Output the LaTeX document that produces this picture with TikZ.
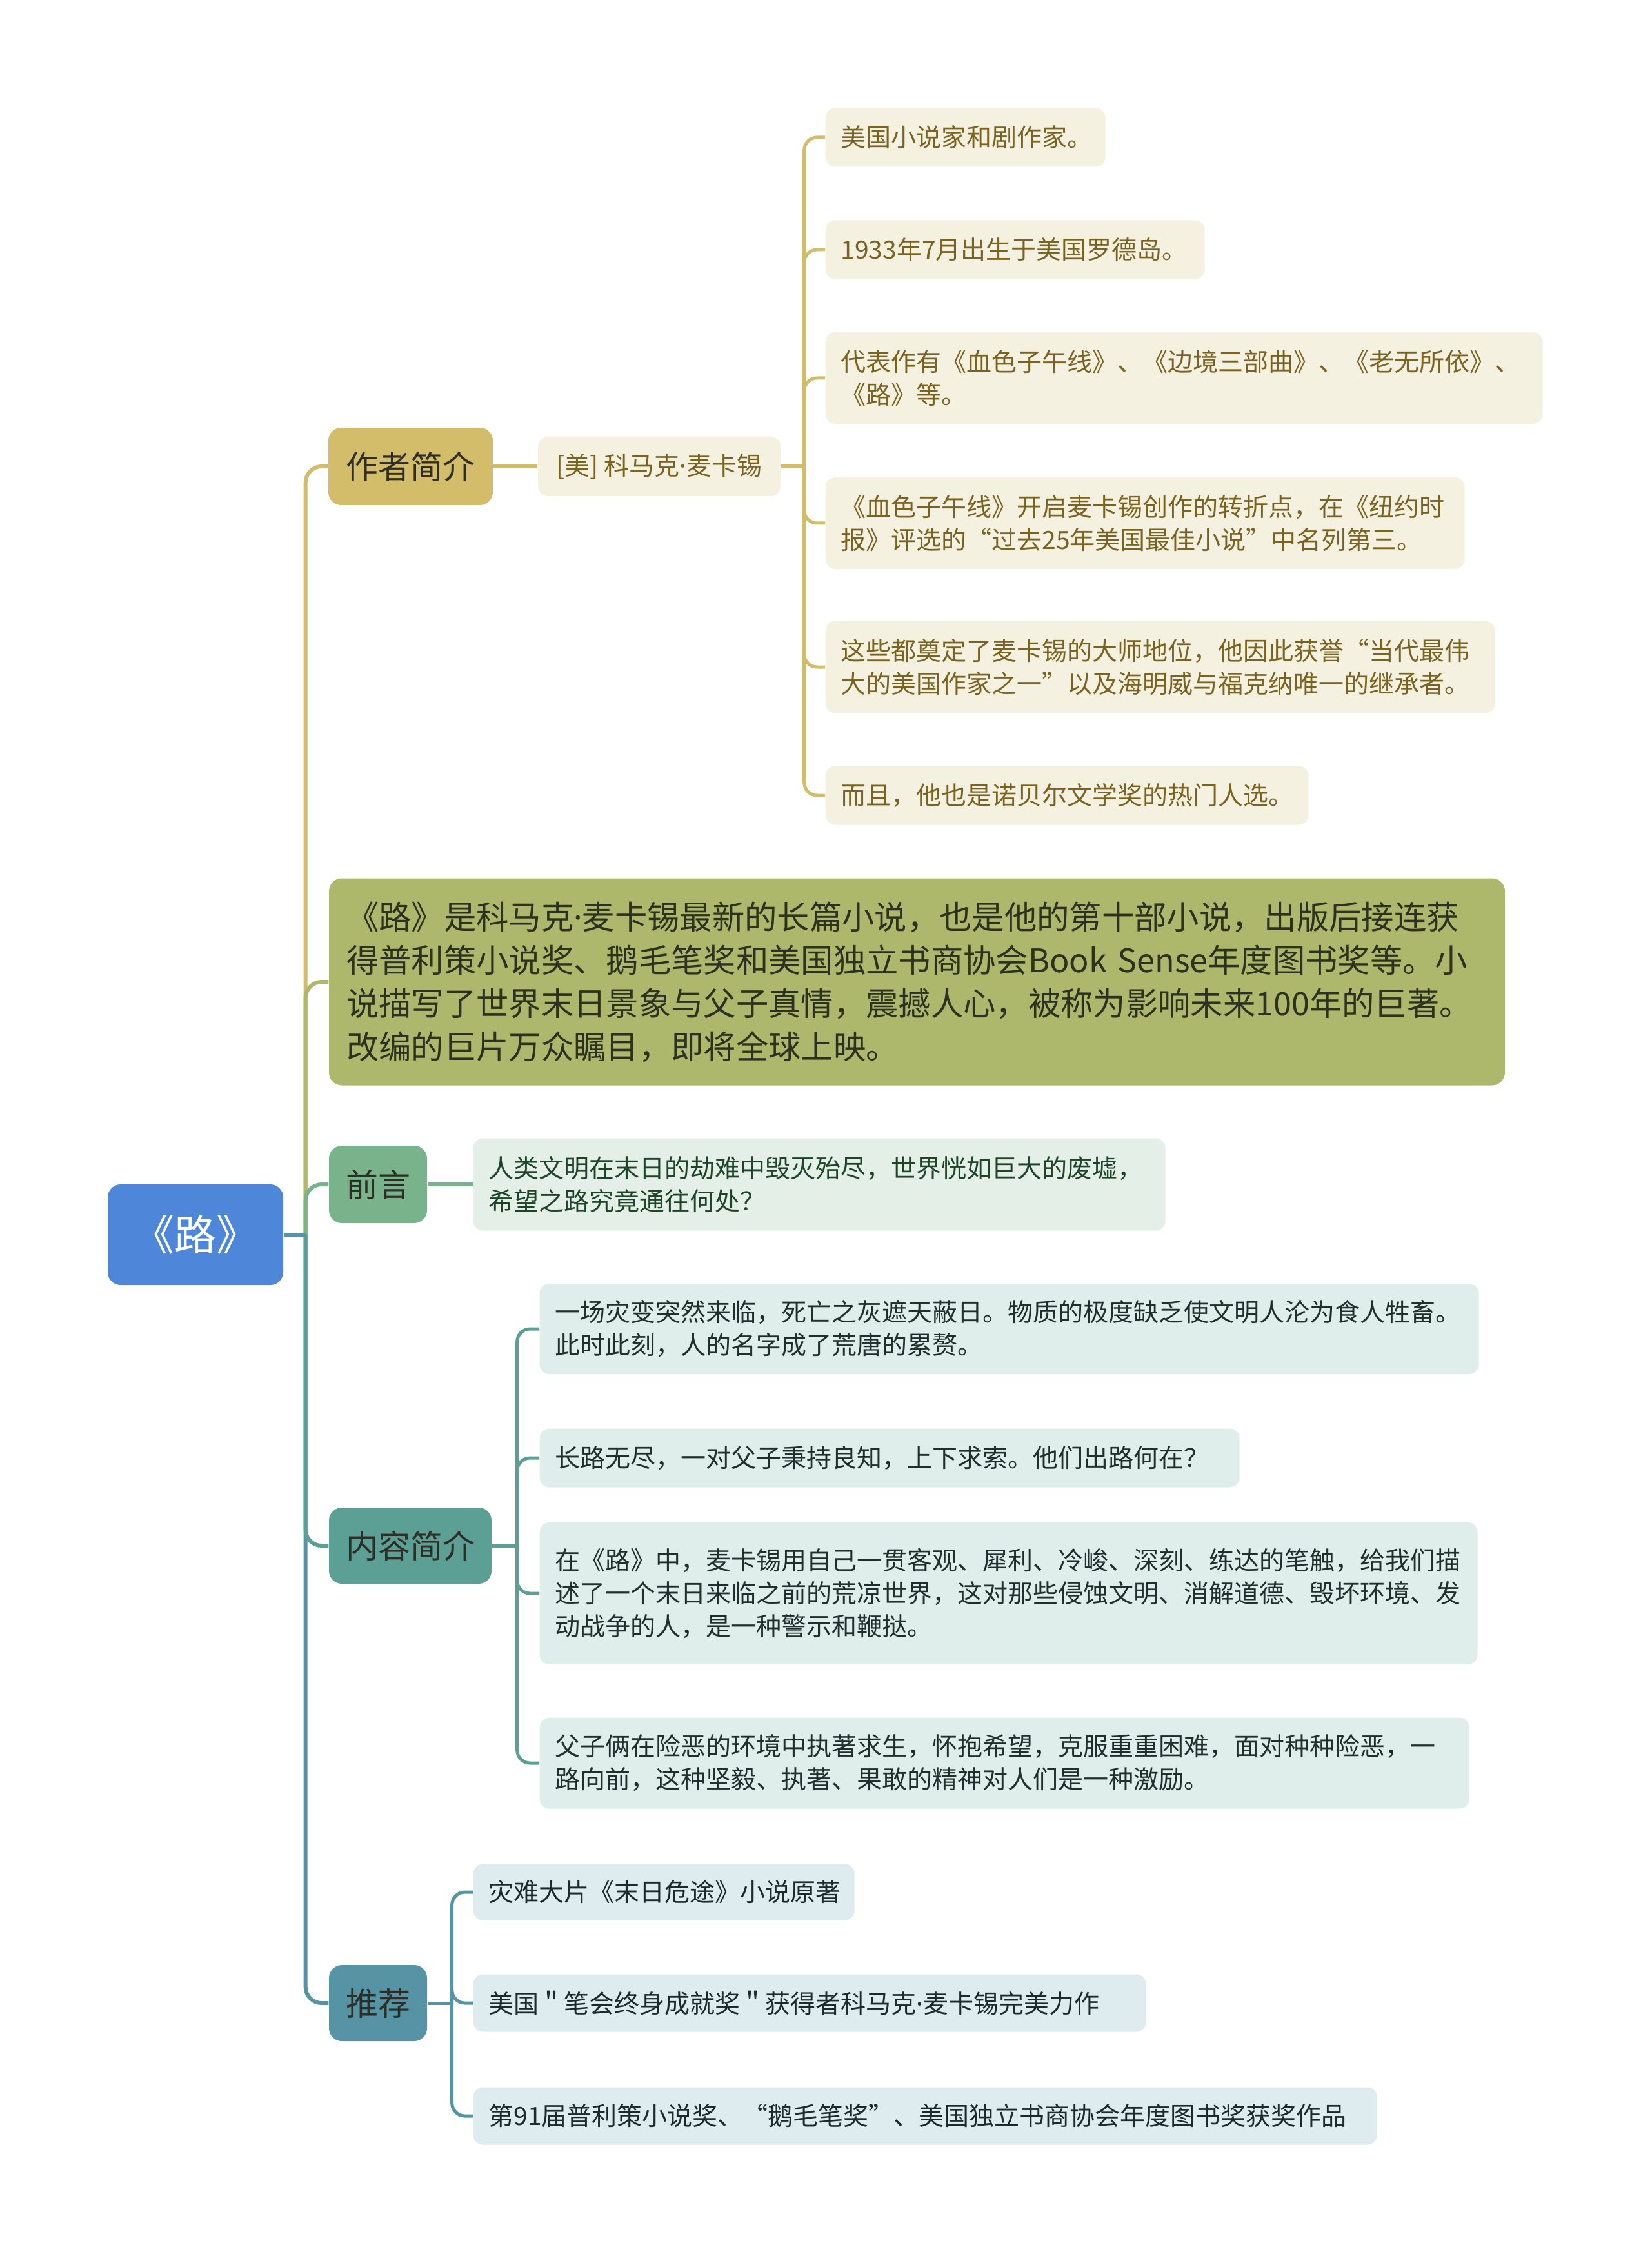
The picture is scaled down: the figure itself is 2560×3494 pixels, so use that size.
\documentclass[tikz,border=0pt]{standalone}
\usepackage{fontspec}
\setmainfont{Noto Sans CJK SC}
\newfontfamily\latinfont{Noto Sans}
\newcommand{\mdot}{{\latinfont ·}}
\definecolor{rootblue}{HTML}{4E86D9}
\definecolor{goldc}{HTML}{D3BD6B}
\definecolor{goldleaf}{HTML}{F5F1E1}
\definecolor{goldtext}{HTML}{7A6321}
\definecolor{olivec}{HTML}{ADB86C}
\definecolor{olivetext}{HTML}{2D3220}
\definecolor{greenc}{HTML}{78B38B}
\definecolor{greenleaf}{HTML}{E3EFE7}
\definecolor{greentext}{HTML}{1E4527}
\definecolor{tealc}{HTML}{5B9F95}
\definecolor{tealleaf}{HTML}{DFEDEB}
\definecolor{tealtext}{HTML}{1F2F2D}
\definecolor{bluec}{HTML}{5693A4}
\definecolor{blueleaf}{HTML}{DEEBEF}
\definecolor{bluetext}{HTML}{1C2A2E}
\definecolor{topictext}{HTML}{2E2E26}
\begin{document}
\begin{tikzpicture}[x=0.3pt,y=-0.3pt,
  rootbox/.style={rounded corners=6pt, fill=rootblue, text=white, inner sep=0pt,
    minimum width=81.6pt, minimum height=46.8pt, font=\fontsize{19.5}{22}\selectfont},
  topic/.style={rounded corners=6pt, text=topictext, inner sep=0pt,
    minimum height=36pt, font=\fontsize{15}{18}\selectfont},
  leaf/.style={rounded corners=4.5pt, anchor=west, align=left, inner xsep=7.2pt, inner ysep=0pt,
    font=\fontsize{11.7}{15.3}\selectfont},
  gleaf/.style={leaf, fill=goldleaf, text=goldtext},
  tleaf/.style={leaf, fill=tealleaf, text=tealtext},
  bleaf/.style={leaf, fill=blueleaf, text=bluetext},
  trunk/.style={line width=1.8pt, rounded corners=7.5pt},
  twig/.style={line width=1.5pt, rounded corners=6pt},
]
\useasboundingbox (0,0) rectangle (2560,3494);

% root
\node[rootbox] (root) at (303,1914) {《路》};
\coordinate (T) at ([xshift=10.2pt]root.east);

% main topics
\node[topic, fill=goldc, minimum width=76.5pt] (author) at (636.5,723) {作者简介};
\node[leaf, anchor=center, align=left, fill=olivec, text=olivetext, rounded corners=6pt,
      inner xsep=8.1pt, text width=530.7pt, minimum height=96.3pt,
      font=\fontsize{15.1}{20.1}\selectfont] (para) at (1421.5,1522)
  {《路》是科马克\mdot 麦卡锡最新的长篇小说，也是他的第十部小说，出版后接连获\\
   得普利策小说奖、鹅毛笔奖和美国独立书商协会Book~Sense年度图书奖等。小\\
   说描写了世界末日景象与父子真情，震撼人心，被称为影响未来100年的巨著。\\
   改编的巨片万众瞩目，即将全球上映。};
\node[topic, fill=greenc, minimum width=45.6pt] (preface) at (586,1836) {前言};
\node[topic, fill=tealc, minimum width=75.6pt, minimum height=35.4pt] (content) at (636,2396) {内容简介};
\node[topic, fill=bluec, minimum width=45.6pt, minimum height=35.4pt] (rec) at (586,3105) {推荐};

% author sub-node
\node[rounded corners=4.5pt, fill=goldleaf, text=goldtext, inner sep=0pt,
      minimum width=112.8pt, minimum height=27.6pt,
      font=\fontsize{11.7}{15.3}\selectfont] (mcc) at (1022,723) {[美] 科马克\mdot 麦卡锡};
\coordinate (B1) at ([xshift=10.8pt]mcc.east);

% author leaves
\node[gleaf, text width=115.8pt, minimum height=27.3pt] (a1) at (1279,213) {美国小说家和剧作家。};
\node[gleaf, text width=162pt, minimum height=27.3pt] (a2) at (1279,387) {1933年7月出生于美国罗德岛。};
\node[gleaf, text width=319.2pt, minimum height=42.6pt] (a3) at (1279,586)
  {代表作有《血色子午线》、《边境三部曲》、《老无所依》、\\《路》等。};
\node[gleaf, text width=282.9pt, minimum height=42.6pt] (a4) at (1279,811)
  {《血色子午线》开启麦卡锡创作的转折点，在《纽约时\\报》评选的“过去25年美国最佳小说”中名列第三。};
\node[gleaf, text width=297pt, minimum height=42.9pt] (a5) at (1279,1034)
  {这些都奠定了麦卡锡的大师地位，他因此获誉“当代最伟\\大的美国作家之一”以及海明威与福克纳唯一的继承者。};
\node[gleaf, text width=210.3pt, minimum height=27.3pt] (a6) at (1279,1233) {而且，他也是诺贝尔文学奖的热门人选。};

% preface leaf
\node[leaf, fill=greenleaf, text=greentext, text width=307.5pt, minimum height=42.9pt] (p1) at (733,1836)
  {人类文明在末日的劫难中毁灭殆尽，世界恍如巨大的废墟，\\希望之路究竟通往何处？};

% content leaves
\coordinate (B2) at ([xshift=11.7pt]content.east);
\node[tleaf, text width=422.4pt, minimum height=42pt] (c1) at (836,2060)
  {一场灾变突然来临，死亡之灰遮天蔽日。物质的极度缺乏使文明人沦为食人牲畜。\\此时此刻，人的名字成了荒唐的累赘。};
\node[tleaf, text width=311.1pt, minimum height=27.3pt] (c2) at (836,2260)
  {长路无尽，一对父子秉持良知，上下求索。他们出路何在？};
\node[tleaf, text width=421.8pt, minimum height=66pt] (c3) at (836,2470)
  {在《路》中，麦卡锡用自己一贯客观、犀利、冷峻、深刻、练达的笔触，给我们描\\述了一个末日来临之前的荒凉世界，这对那些侵蚀文明、消解道德、毁坏环境、发\\动战争的人，是一种警示和鞭挞。};
\node[tleaf, text width=417.9pt, minimum height=42.3pt] (c4) at (836,2733)
  {父子俩在险恶的环境中执著求生，怀抱希望，克服重重困难，面对种种险恶，一\\路向前，这种坚毅、执著、果敢的精神对人们是一种激励。};

% recommendation leaves
\coordinate (B3) at ([xshift=11.4pt]rec.east);
\node[bleaf, text width=162.9pt, minimum height=26.1pt] (r1) at (733,2933) {灾难大片《末日危途》小说原著};
\node[bleaf, text width=298.5pt, minimum height=26.7pt] (r2) at (733,3105) {美国＂笔会终身成就奖＂获得者科马克\mdot 麦卡锡完美力作};
\node[bleaf, text width=405.9pt, minimum height=26.7pt] (r3) at (733,3280) {第91届普利策小说奖、“鹅毛笔奖”、美国独立书商协会年度图书奖获奖作品};

% trunk connectors (longest first)
\draw[trunk, goldc] (T) |- (author.west);
\draw[trunk, olivec] (T) |- (para.west);
\draw[trunk, greenc] (T) |- (preface.west);
\draw[trunk, bluec] (T) |- (rec.west);
\draw[trunk, tealc] (T) |- (content.west);
\draw[trunk, bluec] (root.east) -- (T);

% author connectors
\draw[trunk, goldc] (author.east) -- (mcc.west);
\draw[twig, goldc] (mcc.east) -- (B1);
\foreach \n in {a1,a2,a3,a4,a5,a6} \draw[twig, goldc] (B1) |- (\n.west);

% preface connector
\draw[trunk, greenc] (preface.east) -- (p1.west);

% content connectors
\draw[twig, tealc] (content.east) -- (B2);
\foreach \n in {c1,c2,c3,c4} \draw[twig, tealc] (B2) |- (\n.west);

% recommendation connectors
\draw[twig, bluec] (rec.east) -- (B3);
\foreach \n in {r1,r2,r3} \draw[twig, bluec] (B3) |- (\n.west);
\end{tikzpicture}
\end{document}
